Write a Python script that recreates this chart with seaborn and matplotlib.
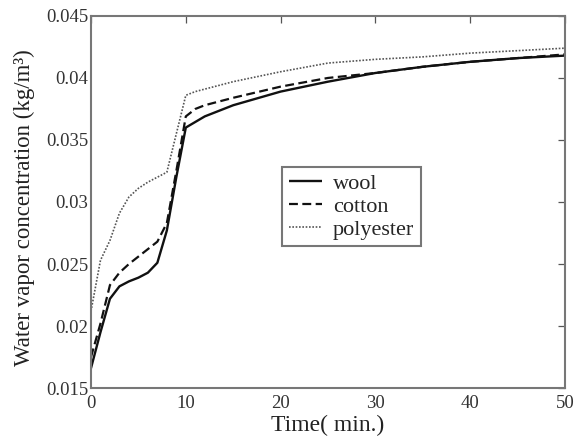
import matplotlib
matplotlib.use("Agg")
import matplotlib.pyplot as plt
import seaborn as sns
import pandas as pd

time_wool = [0, 1, 2, 3, 4, 5, 6, 7, 8, 9, 10, 12, 15, 20, 25, 30, 35, 40, 45, 50]
wool = [0.0166, 0.0195, 0.0222, 0.0232, 0.0236, 0.0239, 0.0243, 0.0251, 0.0277, 0.0320, 0.0360,
        0.0369, 0.0378, 0.0389, 0.0397, 0.0404, 0.0409, 0.0413, 0.0416, 0.0418]
time_cotton = [0, 1, 2, 3, 4, 5, 6, 7, 8, 9, 10, 11, 12, 15, 20, 25, 30, 35, 40, 45, 50]
cotton = [0.0175, 0.0202, 0.0233, 0.0243, 0.0250, 0.0256, 0.0262, 0.0268, 0.0283, 0.0325, 0.0369,
          0.0375, 0.0378, 0.0384, 0.0393, 0.0400, 0.0404, 0.0409, 0.0413, 0.0416, 0.0419]
time_poly = [0, 1, 2, 3, 4, 5, 6, 7, 8, 9, 10, 11, 12, 15, 20, 25, 30, 35, 40, 45, 50]
polyester = [0.0212, 0.0253, 0.0269, 0.0291, 0.0304, 0.0311, 0.0316, 0.0320, 0.0324, 0.0355, 0.0386,
             0.0389, 0.0391, 0.0397, 0.0405, 0.0412, 0.0415, 0.0417, 0.0420, 0.0422, 0.0424]
labels = ["wool", "cotton", "polyester"]
x_ticks = [0, 10, 20, 30, 40, 50]
y_ticks = [0.015, 0.02, 0.025, 0.03, 0.035, 0.04, 0.045]
y_ticklabels = ["0.015", "0.02", "0.025", "0.03", "0.035", "0.04", "0.045"]

df = pd.concat([
    pd.DataFrame({"t": time_wool, "c": wool, "fabric": labels[0]}),
    pd.DataFrame({"t": time_cotton, "c": cotton, "fabric": labels[1]}),
    pd.DataFrame({"t": time_poly, "c": polyester, "fabric": labels[2]}),
])

sns.set_style("white")
plt.rcParams["font.family"] = ["Liberation Serif", "DejaVu Serif"]

fig = plt.figure(figsize=(5.74, 4.42), dpi=100)
ax = fig.add_axes([0.1585, 0.122, 0.826, 0.842])

styles = {"wool": (0, ()), "cotton": (0, (4, 2)), "polyester": (0, (1, 1))}
widths = {"wool": 1.7, "cotton": 1.6, "polyester": 1.2}
colors = {"wool": "#111111", "cotton": "#111111", "polyester": "#555555"}
for lab in labels:
    sub = df[df["fabric"] == lab]
    sns.lineplot(data=sub, x="t", y="c", ax=ax, color=colors[lab], lw=widths[lab],
                 linestyle=styles[lab], label=lab, estimator=None)

ax.set_xlim(0, 50)
ax.set_ylim(0.015, 0.045)
ax.set_xticks(x_ticks)
ax.set_yticks(y_ticks)
ax.set_yticklabels(y_ticklabels)
ax.tick_params(direction="in", length=5, width=0.9, colors="#555555", labelcolor="#333333",
               labelsize=13.5, top=True, right=True)
ax.tick_params(axis="x", pad=5)
ax.tick_params(axis="y", pad=2)
for s in ax.spines.values():
    s.set_color("#777777")
    s.set_linewidth(1.5)
ax.set_xlabel("Time( min.)", fontsize=17, labelpad=2, color="#222222")
ax.set_ylabel("Water vapor concentration (kg/m³)", fontsize=16.5, color="#222222")
ax.yaxis.set_label_coords(-0.118, 0.484)

leg = ax.legend(loc="upper left", bbox_to_anchor=(0.403, 0.594), fontsize=16, frameon=True,
                fancybox=False, shadow=False, handlelength=1.5, borderpad=0.3,
                labelspacing=0.1, handletextpad=0.5, borderaxespad=0)
leg.get_frame().set_edgecolor("#555555")
leg.get_frame().set_linewidth(1.5)

fig.savefig("out.png", dpi=100)
